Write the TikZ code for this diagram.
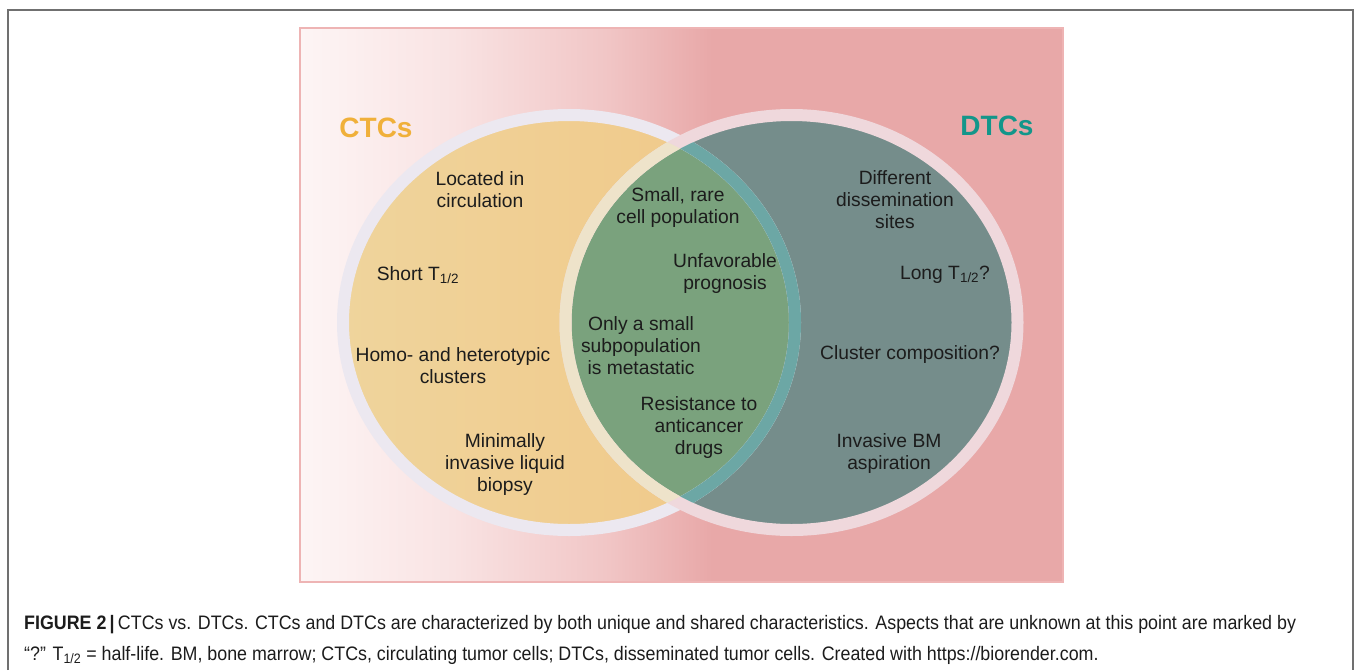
\documentclass[tikz,border=0pt]{standalone}
\usepackage{fontspec}
\setmainfont{Liberation Sans}
\newfontfamily\capfont[FakeStretch=0.915]{Liberation Sans}
\usepackage{xcolor}
\usepackage{tikz}
\usetikzlibrary{positioning}

\definecolor{framegray}{HTML}{707070}
\definecolor{panelA}{HTML}{FDF5F5}
\definecolor{panelB}{HTML}{F9E3E3}
\definecolor{panelC}{HTML}{F1C6C6}
\definecolor{panelD}{HTML}{E8A8A8}
\definecolor{paneledge}{HTML}{EEB4B4}
\definecolor{ctcA}{HTML}{EFD49C}
\definecolor{ctcB}{HTML}{F1C786}
\definecolor{ctcring}{HTML}{ECE8F0}
\definecolor{dtcfill}{HTML}{758D8B}
\definecolor{dtcring}{HTML}{EFD8DC}
\definecolor{bothfill}{HTML}{7AA27D}
\definecolor{tealband}{HTML}{6CA7A5}
\definecolor{creamband}{HTML}{EEE3CA}
\definecolor{ctcorange}{HTML}{F0B03A}
\definecolor{dtcteal}{HTML}{13968A}
\definecolor{inktext}{HTML}{1C1C1C}

\pgfdeclarehorizontalshading{panelshade}{100bp}{color(0bp)=(panelA); color(25bp)=(panelA);
  color(35bp)=(panelB); color(45bp)=(panelC); color(52bp)=(panelD); color(100bp)=(panelD)}

\begin{document}
\begin{tikzpicture}[x=1pt,y=-1pt,
  item node/.style={align=center,text=inktext,font=\fontsize{19.25}{22}\selectfont,inner sep=0pt},
  title node/.style={font=\fontsize{28}{30}\selectfont\bfseries,inner sep=0pt},
  caption node/.style={anchor=base west,text=inktext,font=\capfont\fontsize{19.5}{22}\selectfont,inner sep=0pt},
  ring/.style={line width=12pt}]
  \useasboundingbox (0,0) rectangle (1356,670);

  \draw[framegray,line width=1.4pt] (8,670) -- (8,10) -- (1353,10) -- (1353,670);
  \shade[shading=panelshade] (300,28) rectangle (1063,582);
  \draw[paneledge,line width=1.6pt] (300,28) rectangle (1063,582);

  \coordinate (ctc) at (569,322.5);
  \coordinate (dtc) at (791.5,322.5);

  \shade[left color=ctcA,right color=ctcB] (ctc) ellipse [x radius=226pt,y radius=207.5pt];
  \fill[dtcfill] (dtc) ellipse [x radius=226pt,y radius=207.5pt];
  \begin{scope}
    \clip (ctc) ellipse [x radius=220pt,y radius=201.5pt];
    \fill[bothfill] (dtc) ellipse [x radius=220pt,y radius=201.5pt];
  \end{scope}
  \draw[ring,ctcring] (ctc) ellipse [x radius=226pt,y radius=207.5pt];
  \draw[ring,dtcring] (dtc) ellipse [x radius=226pt,y radius=207.5pt];
  \begin{scope}
    \clip (dtc) ellipse [x radius=220pt,y radius=201.5pt];
    \draw[ring,tealband] (ctc) ellipse [x radius=226pt,y radius=207.5pt];
  \end{scope}
  \begin{scope}
    \clip (ctc) ellipse [x radius=220pt,y radius=201.5pt];
    \draw[ring,creamband] (dtc) ellipse [x radius=226pt,y radius=207.5pt];
  \end{scope}

  \node[title node,text=ctcorange] (ctcs) at (376,128) {CTCs};
  \node[title node,text=dtcteal] (dtcs) at (997,126) {DTCs};

  \node[item node] (located) at (480,189.5) {Located in\\circulation};
  \node[item node] (shorthl) at (418,275) {Short T\textsubscript{1/2}};
  \node[item node] (homo) at (453,366) {Homo- and heterotypic\\clusters};
  \node[item node] (biopsy) at (505,465) {Minimally\\invasive liquid\\biopsy};

  \node[item node] (rare) at (678,208) {Small, rare\\cell population};
  \node[item node] (prognosis) at (725,274) {Unfavorable\\prognosis};
  \node[item node] (subpop) at (641,345.5) {Only a small\\subpopulation\\is metastatic};
  \node[item node] (resist) at (699,428) {Resistance to\\anticancer\\drugs};

  \node[item node] (sites) at (895,200) {Different\\dissemination\\sites};
  \node[item node] (longhl) at (945,275) {Long T\textsubscript{1/2}?};
  \node[item node] (cluster) at (910,355) {Cluster composition?};
  \node[item node] (aspir) at (889,454) {Invasive BM\\aspiration};

  \node[caption node] (cap1) at (24,629) {\textbf{FIGURE 2\,|\,}CTCs vs. DTCs. CTCs and DTCs are characterized by both unique and shared characteristics. Aspects that are unknown at this point are marked by};
  \node[caption node] (cap2) at (24,660) {“?” T\textsubscript{1/2} = half-life. BM, bone marrow; CTCs, circulating tumor cells; DTCs, disseminated tumor cells. Created with https://biorender.com.};
\end{tikzpicture}
\end{document}
